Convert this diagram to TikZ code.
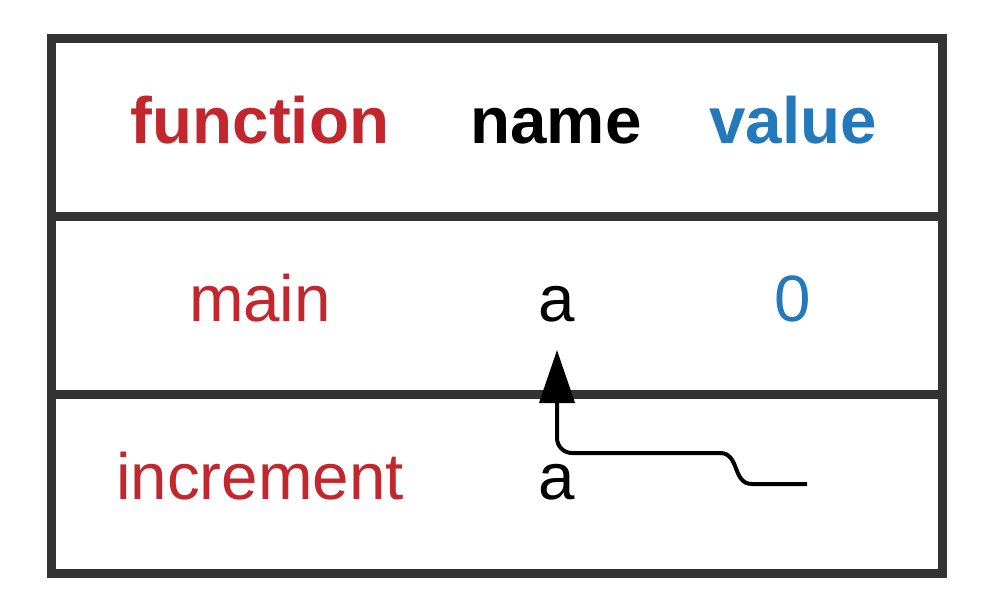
\documentclass[tikz,border=0pt]{standalone}
\usepackage{fontspec}
\setmainfont{Liberation Sans}
\usetikzlibrary{arrows.meta}
\definecolor{fnred}{HTML}{C1272D}
\definecolor{valblue}{HTML}{2479BA}
\definecolor{frame}{HTML}{333333}
\begin{document}
\begin{tikzpicture}[x=1pt,y=-1pt,
  txt/.style={anchor=base,inner sep=0pt,font=\fontsize{65.5}{78}\selectfont},
  hdr/.style={txt,font=\fontsize{65.5}{78}\selectfont\bfseries},
  rule/.style={draw=frame,line width=9pt},
  ptr/.style={line width=4pt,-{Triangle[width=35pt,length=53pt]},rounded corners=15pt}]
\useasboundingbox (0,0) rectangle (1002,610);
\draw[rule] (51.5,38.5) rectangle (942,573);
\draw[rule] (51.5,216.5) -- (942,216.5);
\draw[rule] (51.5,394) -- (942,394);
\node[hdr,text=fnred] (hfn) at (260,143) {function};
\node[hdr,text=black] (hname) at (556,143) {name};
\node[hdr,text=valblue] (hval) at (793,143) {value};
\node[txt,text=fnred] (fmain) at (260,321) {main};
\node[txt] (amain) at (557,321) {a};
\node[txt,text=valblue] (vmain) at (793,321) {0};
\node[txt,text=fnred] (finc) at (260,499) {increment};
\node[txt] (ainc) at (557,499) {a};
\coordinate (pstart) at (807,484);
\coordinate (ptip) at (557,350);
\draw[line width=4pt] (pstart) -- (752,484) .. controls (732,484) and (740,453) .. (720,453);
\draw[ptr] (721,453) -- (557,453) -- (ptip);
\end{tikzpicture}
\end{document}
